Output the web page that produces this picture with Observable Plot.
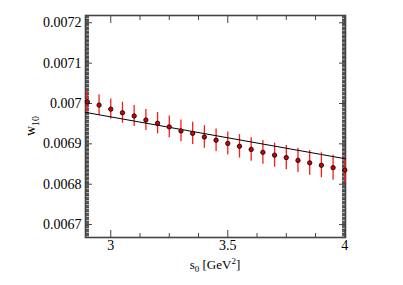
<!DOCTYPE html>
<html><head><meta charset="utf-8">
<script src="https://cdn.jsdelivr.net/npm/d3@7"></script>
<script src="https://cdn.jsdelivr.net/npm/@observablehq/plot@0.6"></script>
<style>body{margin:0;background:#fff;} svg{display:block;} svg text{font-family:"Liberation Serif","Times New Roman",serif !important;}</style>
</head><body><div id="chart"></div>
<script>
const s0 = [2.9, 2.95, 3.0, 3.05, 3.1, 3.15, 3.2, 3.25, 3.3, 3.35, 3.4, 3.45, 3.5, 3.55, 3.6, 3.65, 3.7, 3.75, 3.8, 3.85, 3.9, 3.95, 4.0];
const w10 = [0.007004, 0.006996, 0.006986, 0.006977, 0.006969, 0.006959, 0.006951, 0.006942, 0.006932, 0.006926,
             0.006917, 0.006909, 0.006901, 0.006894, 0.006886, 0.006879, 0.006872, 0.006866, 0.006859, 0.006853,
             0.006847, 0.006841, 0.006835];
const err = [0.0000255, 0.0000255, 0.000025, 0.000026, 0.000026, 0.000026, 0.0000265, 0.000027, 0.000027, 0.0000275,
             0.000028, 0.000028, 0.0000285, 0.000029, 0.000029, 0.0000295, 0.00003, 0.00003, 0.00003, 0.0000305,
             0.000031, 0.000031, 0.000031];
const fitX = [2.892, 4.003];
const fitY = [0.006978, 0.006863];
const xTicks = [3, 3.5, 4];
const xMinor = [3.125, 3.25, 3.375, 3.625, 3.75, 3.875];
const yTicks = [0.0067, 0.0068, 0.0069, 0.007, 0.0071, 0.0072];
const yTickLabels = ["0.0067", "0.0068", "0.0069", "0.007", "0.0071", "0.0072"];
const yMinor = [];
for (let i = 6668; i <= 7218; i += 2) { if (i % 10 !== 0 && i >= 6670) yMinor.push(i / 1e6); }

const pts = s0.map((s, i) => ({s, w: w10[i], lo: w10[i] - err[i], hi: w10[i] + err[i]}));
const fit = fitX.map((x, i) => ({x, y: fitY[i]}));
const yFmt = d => yTickLabels[yTicks.findIndex(t => Math.abs(t - d) < 1e-9)];
const axisCol = "#444";
const ff = "Liberation Serif";

const svg = Plot.plot({
  width: 403, height: 285,
  marginLeft: 85, marginRight: 58, marginTop: 15, marginBottom: 48,
  style: {fontFamily: "'Liberation Serif', serif", fontSize: "14px", background: "#fff", color: "#000"},
  x: {domain: [2.892, 4.003]},
  y: {domain: [0.006668, 0.007218]},
  marks: [
    Plot.frame({stroke: axisCol, strokeWidth: 1.6}),
    Plot.axisY(yTicks, {anchor: "left", tickSize: 0, tickPadding: 4, tickFormat: yFmt, label: null, fontSize: 14, fontFamily: ff}),
    Plot.axisY(yTicks, {anchor: "left", tickSize: -7, text: null, label: null, stroke: axisCol}),
    Plot.axisY(yMinor, {anchor: "left", tickSize: -4, text: null, label: null, stroke: axisCol}),
    Plot.axisY(yTicks, {anchor: "right", tickSize: -7, text: null, label: null, stroke: axisCol}),
    Plot.axisY(yMinor, {anchor: "right", tickSize: -4, text: null, label: null, stroke: axisCol}),
    Plot.axisX(xTicks, {anchor: "bottom", tickSize: 0, tickPadding: 3, tickFormat: d => String(d), label: null, fontSize: 14, fontFamily: ff}),
    Plot.axisX(xTicks, {anchor: "bottom", tickSize: -7, text: null, label: null, stroke: axisCol}),
    Plot.axisX(xMinor, {anchor: "bottom", tickSize: -4, text: null, label: null, stroke: axisCol}),
    Plot.axisX(xTicks, {anchor: "top", tickSize: -7, text: null, label: null, stroke: axisCol}),
    Plot.axisX(xMinor, {anchor: "top", tickSize: -4, text: null, label: null, stroke: axisCol}),
    Plot.ruleX(pts, {x: "s", y1: "lo", y2: "hi", stroke: "#ff1a1a", strokeWidth: 1.3}),
    Plot.line(fit, {x: "x", y: "y", stroke: "#000", strokeWidth: 1}),
    Plot.dot(pts, {x: "s", y: "w", r: 2.2, fill: "#cc0000", stroke: "#000", strokeWidth: 0.8})
  ]
});
document.getElementById("chart").appendChild(svg);

const s = d3.select(svg);
const xl = s.append("text").attr("x", 215).attr("y", 269).attr("text-anchor", "middle")
  .attr("font-family", ff).attr("font-size", 13).attr("fill", "#000");
xl.append("tspan").text("s");
xl.append("tspan").attr("font-size", 9).attr("dy", 3).text("0");
xl.append("tspan").attr("dy", -3).text(" [GeV");
xl.append("tspan").attr("font-size", 9).attr("dy", -5).text("2");
xl.append("tspan").attr("dy", 5).text("]");

const yl = s.append("text").attr("transform", "translate(35,126) rotate(-90)").attr("text-anchor", "middle")
  .attr("font-family", ff).attr("font-size", 14).attr("fill", "#000");
yl.append("tspan").text("w");
yl.append("tspan").attr("font-size", 10).attr("dy", 4).text("10");
</script>
</body></html>
